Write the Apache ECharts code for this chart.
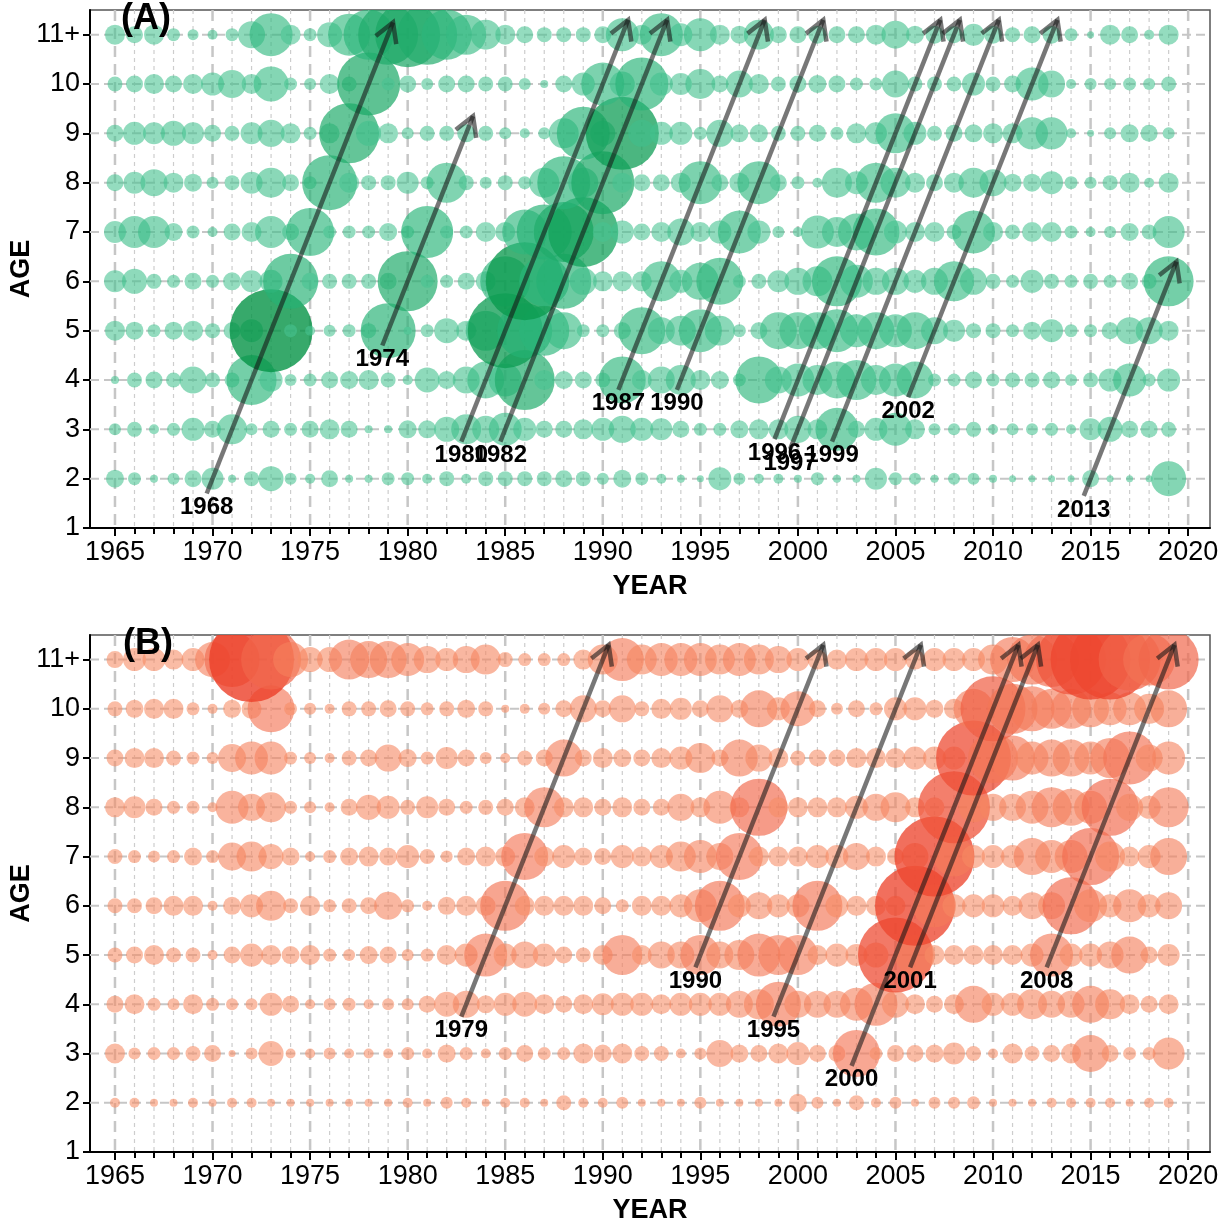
<!DOCTYPE html>
<html>
<head>
<meta charset="utf-8">
<title>Year-class bubbles</title>
<script src="https://cdn.jsdelivr.net/npm/echarts@6/dist/echarts.min.js"></script>
<style>
html, body { margin: 0; padding: 0; background: #fff; }
#chart { width: 1225px; height: 1224px; }
</style>
</head>
<body>
<div id="chart"></div>
<script>
// years on the x axis (one column of bubbles each)
const years = [];
for (let y = 1965; y <= 2019; y++) years.push(y);
const majorYears = [1965, 1970, 1975, 1980, 1985, 1990, 1995, 2000, 2005, 2010, 2015, 2020];
const gridYears = [];
for (let y = 1965; y <= 2020; y++) gridYears.push(y);
const ageTicks = [1, 2, 3, 4, 5, 6, 7, 8, 9, 10, 11];

// panel A, relative abundance by age (1965 ... 2019)
const A2  = [18,13,8,12,17,22,8,15,25,12,10, 17,8,8,13,13,10,15,10,15,15,15, 15,17,15,12,18,13,10,8,7,23,12, 10,10,8,13,8,8,22,13,12,8,12, 12,8,7,7,7,7,17,7,7,7,35];
const A3  = [12,15,10,13,23,17,30,12,17,13,17, 20,17,8,8,18,18,25,30,27,33,23, 17,17,20,23,27,23,22,17,13,13,18, 20,20,27,20,43,17,23,33,20,12,12, 15,10,12,12,13,10,22,25,17,17,15];
const A4  = [8,15,17,15,27,15,15,50,23,12,13, 17,18,20,15,10,25,18,27,37,33,60, 20,18,17,15,47,20,27,30,20,18,13, 47,27,33,30,37,40,30,33,37,13,13, 17,13,15,15,17,12,15,23,33,13,23];
const A5  = [20,18,13,18,20,15,17,23,83,13,10, 12,13,15,55,8,13,25,20,40,75,55, 50,37,13,13,17,47,27,30,43,30,13, 17,37,37,37,43,33,37,33,37,27,22, 15,15,13,18,23,13,13,17,27,27,20];
const A6  = [22,25,15,13,17,13,18,22,23,55,17, 15,15,15,17,60,13,13,17,20,50,78, 50,55,27,20,20,20,40,23,37,47,13, 15,22,27,30,50,33,27,27,23,27,40, 27,15,13,23,15,13,15,13,17,15,50];
const A7  = [22,32,32,18,13,10,17,20,32,17,48, 13,13,13,18,13,52,13,13,20,20,45, 55,60,70,20,23,17,20,27,20,23,43, 23,12,10,33,30,37,47,23,20,20,15, 43,20,15,20,20,13,10,12,18,15,32];
const A8  = [17,22,27,20,18,12,15,22,30,17,13, 55,20,15,15,22,13,40,15,12,15,13, 30,53,30,63,20,17,17,20,43,17,20, 43,17,13,10,30,23,40,30,20,17,20, 30,27,18,18,23,13,12,15,20,10,20];
const A9  = [17,23,22,25,22,17,15,22,27,20,13, 20,60,25,20,12,15,15,18,15,12,10, 12,30,53,25,73,27,23,23,13,27,18, 18,15,15,17,13,20,22,40,23,15,17, 18,20,20,32,32,10,7,12,18,17,12];
const A10 = [15,17,20,17,20,23,28,20,35,13,12, 20,15,63,13,17,12,17,17,15,15,12, 8,17,23,43,25,53,23,22,30,17,27, 20,15,17,18,17,13,13,27,15,15,15, 23,15,17,33,27,10,12,12,13,12,15];
const A11 = [20,17,20,13,11,10,13,27,43,20,13, 25,42,50,60,65,60,50,40,30,20,17, 15,15,15,17,33,20,43,23,33,20,18, 30,17,17,18,17,17,20,28,18,18,17, 22,18,15,17,18,13,7,20,17,10,20];

// panel B, relative abundance by age (1965 ... 2019)
const B2  = [10,10,8,8,10,8,10,10,8,8,8, 8,8,8,8,10,8,12,10,8,10,10, 8,15,10,10,12,8,8,8,12,8,8, 8,8,18,12,8,15,10,12,8,12,12, 13,8,8,8,10,10,10,10,8,10,10];
const B3  = [20,12,13,13,15,17,7,12,25,10,10, 12,10,10,10,13,10,18,13,10,13,17, 13,13,20,18,20,15,15,10,12,27,18, 17,20,23,17,17,47,13,17,17,18,22, 15,10,20,15,17,20,37,17,13,13,32];
const B4  = [17,20,13,12,20,13,12,12,23,17,10, 12,13,10,12,12,17,25,27,18,23,25, 20,17,20,22,23,23,20,23,23,23,27, 30,45,27,27,27,33,43,27,20,17,20, 37,23,23,30,27,27,37,30,20,17,20];
const B5  = [15,17,20,15,15,10,17,23,20,18,20, 13,12,18,17,12,13,20,23,43,23,27, 23,17,15,20,40,20,27,27,40,27,30, 43,40,40,20,23,22,25,75,40,20,20, 20,20,20,23,43,23,23,27,37,17,22];
const B6  = [15,15,17,20,20,10,18,23,30,15,20, 13,15,17,28,13,10,18,20,20,50,20, 20,20,20,17,13,20,20,23,33,50,23, 27,23,23,50,23,20,20,20,80,43,23, 23,23,20,27,27,57,33,23,33,23,27];
const B7  = [15,13,12,13,18,13,28,30,25,18,10, 13,18,20,18,23,15,12,18,20,20,47, 20,23,18,17,23,20,23,30,33,27,47, 20,20,20,23,23,27,20,17,27,80,40, 23,23,23,37,33,33,57,30,20,23,37];
const B8  = [20,22,17,13,13,10,33,27,30,13,12, 10,17,25,23,15,22,17,13,15,17,20, 40,20,20,17,20,17,17,27,20,33,20, 57,20,20,20,20,23,27,30,20,20,72, 30,27,27,33,40,37,33,57,27,23,40];
const B9  = [17,20,20,15,13,12,28,33,33,13,12, 10,15,17,27,18,13,22,17,12,10,15, 17,37,17,20,18,17,20,23,30,17,37, 27,20,15,17,17,20,20,20,23,23,23, 75,50,45,33,37,37,33,40,53,27,33];
const B10 = [15,18,20,20,13,10,18,20,47,13,12, 10,15,15,17,15,13,15,18,15,8,10, 12,17,27,17,27,15,20,22,17,27,18, 37,23,35,17,12,17,13,23,23,18,20, 40,65,50,45,40,40,37,33,33,30,37];
const B11 = [17,23,23,20,23,35,55,85,60,35,25, 25,40,37,37,33,27,23,27,30,15,13, 13,13,20,30,43,30,33,33,33,30,33, 30,27,23,20,20,23,23,23,20,23,23, 23,30,45,50,55,70,80,80,62,52,60];

// followed year classes: [year class, age at arrow start, age at arrow tip]
const cohortsA = [[1968, 1.7, 11.25], [1974, 4.7, 9.35], [1980, 2.75, 11.3], [1982, 2.75, 11.3],
                  [1987, 3.8, 11.3], [1990, 3.8, 11.3], [1996, 2.8, 11.3], [1997, 2.6, 11.3],
                  [1999, 2.75, 11.3], [2002, 3.65, 11.3], [2013, 1.65, 6.4]];
const cohortsB = [[1979, 3.75, 11.3], [1990, 4.75, 11.3], [1995, 3.75, 11.3],
                  [2000, 2.75, 11.3], [2001, 4.75, 11.3], [2008, 4.75, 11.3]];

const X_MIN = 1963.72, X_MAX = 2021.12;
const SIZE = 1;
const FONT = '"Liberation Sans", Arial, sans-serif';
const ARROW = 'rgba(20,20,20,0.58)';

function bubbles(rows) {
    const out = [];
    rows.forEach(function (vals, i) {
        vals.forEach(function (v, j) { out.push([years[j], i + 2, v]); });
    });
    return out;
}

function bubble(params, api) {
    const p = api.coord([api.value(0), api.value(1)]);
    return {
        type: 'circle',
        shape: { cx: p[0], cy: p[1], r: api.value(2) * SIZE / 2 },
        style: { fill: api.visual('color') }
    };
}

function vLine(params, api) {
    const cs = params.coordSys;
    const yr = api.value(0);
    const x = api.coord([yr, 1])[0];
    const major = yr % 5 === 0;
    return {
        type: 'line',
        shape: { x1: x, y1: cs.y, x2: x, y2: cs.y + cs.height },
        style: major ? { stroke: '#c6c6c6', lineWidth: 2.5, lineDash: [11, 7] }
                     : { stroke: '#cdcdcd', lineWidth: 1.2, lineDash: [4, 4] }
    };
}

function hLine(params, api) {
    const cs = params.coordSys;
    const y = api.coord([X_MIN, api.value(1)])[1];
    return {
        type: 'line',
        shape: { x1: cs.x, y1: y, x2: cs.x + cs.width, y2: y },
        style: { stroke: '#c6c6c6', lineWidth: 2, lineDash: [9, 5] }
    };
}

function arrow(params, api) {
    const c = api.value(0), a0 = api.value(1), a1 = api.value(2);
    const p0 = api.coord([c + a0, a0]);
    const p1 = api.coord([c + a1, a1]);
    const dx = p1[0] - p0[0], dy = p1[1] - p0[1];
    const len = Math.sqrt(dx * dx + dy * dy);
    const bx = -dx / len, by = -dy / len;
    const L = 22, t = Math.PI / 6;
    const h1 = [p1[0] + L * (bx * Math.cos(t) - by * Math.sin(t)), p1[1] + L * (bx * Math.sin(t) + by * Math.cos(t))];
    const h2 = [p1[0] + L * (bx * Math.cos(-t) - by * Math.sin(-t)), p1[1] + L * (bx * Math.sin(-t) + by * Math.cos(-t))];
    return {
        type: 'group',
        children: [
            { type: 'line', shape: { x1: p0[0], y1: p0[1], x2: p1[0], y2: p1[1] },
              style: { stroke: ARROW, lineWidth: 4.5 } },
            { type: 'polyline', shape: { points: [h1, p1, h2] },
              style: { stroke: ARROW, lineWidth: 4.5, fill: null } },
            { type: 'text', x: p0[0], y: p0[1] + 2,
              style: { text: String(c), fill: '#000', font: 'bold 24px ' + FONT, align: 'center', verticalAlign: 'top' } }
        ]
    };
}

const grids = [
    { left: 90, right: 15, top: 10, height: 518, outerBoundsMode: 'none', show: true, borderColor: '#555', borderWidth: 1.5 },
    { left: 90, right: 15, top: 635, height: 517, outerBoundsMode: 'none', show: true, borderColor: '#555', borderWidth: 1.5 }
];

const xAxes = [], yAxes = [];
[0, 1].forEach(function (g) {
    xAxes.push({
        type: 'value', gridIndex: g, min: X_MIN, max: X_MAX, position: 'bottom',
        axisLine: { show: true, onZero: false, lineStyle: { color: '#000', width: 2 } },
        axisTick: { show: true, length: 8, customValues: majorYears, lineStyle: { color: '#000', width: 2 } },
        axisLabel: { customValues: majorYears, fontFamily: FONT, fontSize: 27, color: '#000', margin: 11,
                     formatter: function (v) { return String(v); } },
        splitLine: { show: false },
        name: 'YEAR', nameLocation: 'middle', nameGap: 45, nameMoveOverlap: false,
        nameTextStyle: { fontFamily: FONT, fontWeight: 'bold', fontSize: 27, color: '#000' }
    });
    xAxes.push({
        type: 'value', gridIndex: g, min: X_MIN, max: X_MAX, position: 'bottom',
        axisLine: { show: false, onZero: false },
        axisTick: { show: true, length: 6, customValues: gridYears, lineStyle: { color: '#000', width: 2 } },
        axisLabel: { show: false },
        splitLine: { show: false }
    });
    yAxes.push({
        type: 'value', gridIndex: g, min: 1, max: 11.5,
        axisLine: { show: true, onZero: false, lineStyle: { color: '#000', width: 2 } },
        axisTick: { show: true, length: 7, customValues: ageTicks, lineStyle: { color: '#000', width: 2 } },
        axisLabel: {
            customValues: ageTicks, fontFamily: FONT, fontSize: 27, color: '#000', margin: 10,
            formatter: function (v) { return v === 11 ? '11+' : String(v); }
        },
        splitLine: { show: false },
        name: 'AGE', nameLocation: 'middle', nameGap: 55, nameRotate: 90, nameMoveOverlap: false,
        nameTextStyle: { fontFamily: FONT, fontWeight: 'bold', fontSize: 27, color: '#000' }
    });
});

const series = [];
[[A2, A3, A4, A5, A6, A7, A8, A9, A10, A11], [B2, B3, B4, B5, B6, B7, B8, B9, B10, B11]].forEach(function (rows, g) {
    series.push({
        type: 'custom', xAxisIndex: g * 2, yAxisIndex: g, z: 1, silent: true,
        renderItem: vLine, data: gridYears.map(function (y) { return [y, 1]; })
    });
    series.push({
        type: 'custom', xAxisIndex: g * 2, yAxisIndex: g, z: 1, silent: true,
        renderItem: hLine, data: [2, 3, 4, 5, 6, 7, 8, 9, 10, 11].map(function (a) { return [X_MIN, a]; })
    });
    series.push({
        type: 'custom', xAxisIndex: g * 2, yAxisIndex: g, z: 2, silent: true, clip: true,
        renderItem: bubble, data: bubbles(rows), encode: { x: 0, y: 1 }
    });
    series.push({
        type: 'custom', xAxisIndex: g * 2, yAxisIndex: g, z: 3, silent: true,
        renderItem: arrow, data: g === 0 ? cohortsA : cohortsB
    });
});

const chart = echarts.init(document.getElementById('chart'), null, { renderer: 'canvas' });
chart.setOption({
    animation: false,
    backgroundColor: '#fff',
    grid: grids,
    xAxis: xAxes,
    yAxis: yAxes,
    visualMap: [
        { type: 'continuous', show: false, seriesIndex: 2, dimension: 2, min: 20, max: 85,
          inRange: { color: ['rgba(70,195,145,0.58)', 'rgba(40,180,120,0.66)', 'rgba(0,145,65,0.8)'] } },
        { type: 'continuous', show: false, seriesIndex: 6, dimension: 2, min: 20, max: 85,
          inRange: { color: ['rgba(246,140,100,0.58)', 'rgba(243,115,85,0.66)', 'rgba(236,62,40,0.8)'] } }
    ],
    graphic: [
        { type: 'text', left: 121, top: 1, z: 10, style: { text: '(A)', font: 'bold 36px ' + FONT, fill: '#000' } },
        { type: 'text', left: 123, top: 626, z: 10, style: { text: '(B)', font: 'bold 36px ' + FONT, fill: '#000' } }
    ],
    series: series
});
</script>
</body>
</html>
